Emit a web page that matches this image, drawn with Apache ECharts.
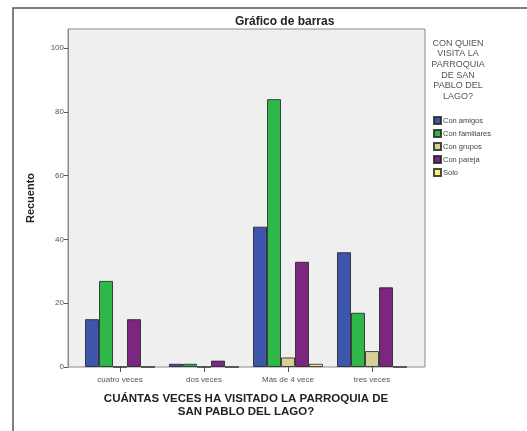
<!DOCTYPE html>
<html>
<head>
<meta charset="utf-8">
<script src="https://cdn.jsdelivr.net/npm/echarts@6/dist/echarts.min.js"></script>
<style>
  html, body { margin: 0; padding: 0; background: #fff; }
  #chart { width: 527px; height: 431px; }
</style>
</head>
<body>
<div id="chart"></div>
<script>
// categories on the x axis
const categories = ['cuatro veces', 'dos veces', 'Más de 4 vece', 'tres veces']
// one array per legend entry
const conAmigos = [15, 1, 44, 36]
const conFamiliares = [27, 1, 84, 17]
const conGrupos = [0, 0, 3, 5]
const conPareja = [15, 2, 33, 25]
const solo = [0, 0, 1, 0]
const yTicks = [0, 20, 40, 60, 80, 100]

const seriesNames = ['Con amigos', 'Con familiares', 'Con grupos', 'Con pareja', 'Solo']
const seriesData = [conAmigos, conFamiliares, conGrupos, conPareja, solo]
const colors = ['#3d55ab', '#2fb84a', '#d6d097', '#7c277f', '#f8f17a']

const font = "'Liberation Sans', Arial, sans-serif"
const chart = echarts.init(document.getElementById('chart'))

const option = {
  backgroundColor: '#fff',
  animation: false,
  textStyle: { fontFamily: font },
  title: {
    text: 'Gráfico de barras',
    left: 230,
    top: 11,
    textStyle: { fontSize: 12, fontWeight: 'bold', color: '#222', fontFamily: font }
  },
  legend: {
    orient: 'vertical',
    left: 428,
    top: 111,
    icon: 'rect',
    itemWidth: 7,
    itemHeight: 7,
    itemGap: 4,
    data: seriesNames,
    textStyle: { fontSize: 7.5, color: '#444', fontFamily: font, padding: [0, 0, 0, -3] }
  },
  graphic: [
    {
      type: 'rect',
      shape: { x: 13, y: 8, width: 530, height: 440 },
      style: { fill: 'none', stroke: '#555', lineWidth: 1.5 },
      silent: true
    },
    {
      type: 'text',
      x: 458,
      y: 38,
      style: {
        text: 'CON QUIEN\nVISITA LA\nPARROQUIA\nDE SAN\nPABLO DEL\nLAGO?',
        align: 'center',
        fontSize: 9,
        lineHeight: 10.6,
        fill: '#555',
        fontFamily: font
      }
    }
  ],
  grid: [
    // bars
    { left: 78, right: 113, top: 29, bottom: 64 },
    // frame of the plot area with the y axis
    {
      left: 68, right: 102, top: 29, bottom: 64,
      show: true, backgroundColor: '#efefef', borderColor: '#8a8a8a', borderWidth: 1
    }
  ],
  xAxis: [
    {
      type: 'category',
      gridIndex: 0,
      data: categories,
      axisLine: { show: false },
      axisTick: { show: true, alignWithLabel: true, length: 5, lineStyle: { color: '#555' } },
      axisLabel: { fontSize: 8, color: '#555', margin: 9 },
      name: 'CUÁNTAS VECES HA VISITADO LA PARROQUIA DE\nSAN PABLO DEL LAGO?',
      nameLocation: 'middle',
      nameGap: 25,
      nameTextStyle: { fontSize: 11.5, fontWeight: 'bold', color: '#222', lineHeight: 13, fontFamily: font }
    },
    { type: 'value', gridIndex: 1, show: false }
  ],
  yAxis: [
    { type: 'value', gridIndex: 0, min: 0, max: 106, show: false },
    {
      type: 'value',
      gridIndex: 1,
      min: 0,
      max: 106,
      axisLine: { show: true, lineStyle: { color: '#8a8a8a' } },
      axisTick: { show: true, length: 4, customValues: yTicks, lineStyle: { color: '#555' } },
      axisLabel: { fontSize: 8, color: '#555', margin: 4, customValues: yTicks },
      splitLine: { show: false },
      name: 'Recuento',
      nameLocation: 'middle',
      nameGap: 32,
      nameTextStyle: { fontSize: 11, fontWeight: 'bold', color: '#222', fontFamily: font }
    }
  ],
  series: seriesNames.map((name, i) => ({
    name: name,
    type: 'bar',
    xAxisIndex: 0,
    yAxisIndex: 0,
    barWidth: 14,
    barGap: '0%',
    itemStyle: { color: colors[i], borderColor: 'rgba(30,30,30,0.8)', borderWidth: 1 },
    data: seriesData[i]
  }))
}

chart.setOption(option)
</script>
</body>
</html>
